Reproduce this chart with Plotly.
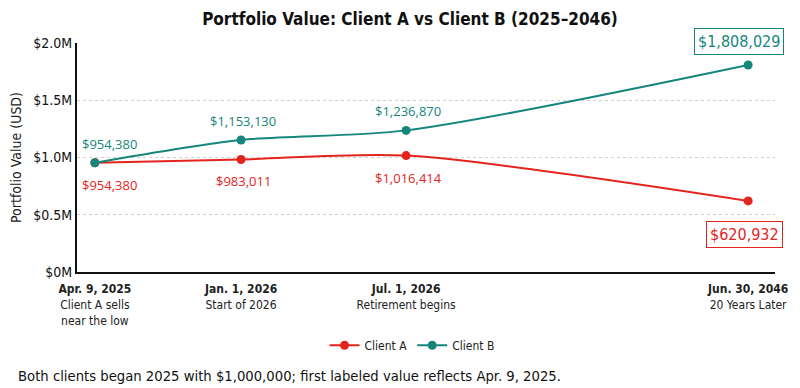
import plotly.graph_objects as go

# ---- data ----
dates = ["Apr. 9, 2025", "Jan. 1, 2026", "Jul. 1, 2026", "Jun. 30, 2046"]
notes = ["Client A sells<br>near the low", "Start of 2026", "Retirement begins", "20 Years Later"]
client_a = [954380, 983011, 1016414, 620932]
client_b = [954380, 1153130, 1236870, 1808029]
y_ticks = [0, 500000, 1000000, 1500000, 2000000]
y_tick_labels = ["$0M", "$0.5M", "$1.0M", "$1.5M", "$2.0M"]

# ---- layout config (timeline positions on a 0-100 axis) ----
x_pos = [2.56, 23.5, 47.15, 96.15]

RED = "#e3241d"
TEAL = "#16867c"
COND = "DejaVu Sans Condensed, Roboto, sans-serif"
BODY = "Open Sans, Noto Sans, sans-serif"

fig = go.Figure()
fig.add_trace(go.Scatter(x=x_pos, y=client_a, name="Client A", mode="lines+markers",
                         line=dict(color=RED, width=2, shape="spline", smoothing=0.8),
                         marker=dict(size=9, color=RED)))
fig.add_trace(go.Scatter(x=x_pos, y=client_b, name="Client B", mode="lines+markers",
                         line=dict(color=TEAL, width=2, shape="spline", smoothing=0.8),
                         marker=dict(size=9, color=TEAL)))

def money(v):
    return "${:,.0f}".format(v)

n = len(dates)
for i in range(n - 1):
    xs = 15 if i == 0 else 2
    fig.add_annotation(x=x_pos[i], y=client_b[i], text=money(client_b[i]), showarrow=False,
                       xshift=xs, yshift=19, font=dict(family=BODY, size=13, color=TEAL))
    fig.add_annotation(x=x_pos[i], y=client_a[i], text=money(client_a[i]), showarrow=False,
                       xshift=xs, yshift=-22, font=dict(family=BODY, size=13, color=RED))

# boxed final values
fig.add_annotation(x=x_pos[-1], y=client_b[-1], text=money(client_b[-1]), showarrow=False,
                   xshift=-9, yshift=23, font=dict(family=COND, size=16, color=TEAL),
                   bordercolor=TEAL, borderwidth=1, borderpad=3, bgcolor="white")
fig.add_annotation(x=x_pos[-1], y=client_a[-1], text=money(client_a[-1]), showarrow=False,
                   xshift=-4, yshift=-34, font=dict(family=COND, size=16, color=RED),
                   bordercolor=RED, borderwidth=1, borderpad=3, bgcolor="white")

fig.add_annotation(xref="paper", yref="paper", x=-0.087, y=-0.45, xanchor="left", yanchor="middle",
                   text="Both clients began 2025 with $1,000,000; first labeled value reflects Apr. 9, 2025.",
                   showarrow=False, font=dict(family=COND, size=14.7, color="#111"))

tick_text = ["<b>%s</b><br>%s" % (d, t) for d, t in zip(dates, notes)]

fig.update_layout(
    width=800, height=388,
    margin=dict(l=77, r=21, t=43, b=116),
    paper_bgcolor="white", plot_bgcolor="white",
    title=dict(text="<b>Portfolio Value: Client A vs Client B (2025–2046)</b>",
               x=0.5125, xanchor="center", y=0.952, yanchor="middle", yref="container",
               font=dict(family=COND, size=17, color="#111")),
    xaxis=dict(range=[0, 100], tickmode="array", tickvals=x_pos, ticktext=tick_text,
               showgrid=False, zeroline=False, showline=True, linecolor="#111", linewidth=2,
               ticks="", ticklabelstandoff=5, tickfont=dict(family=COND, size=12, color="#222")),
    yaxis=dict(range=[0, 2000000], tickmode="array", tickvals=y_ticks, ticktext=y_tick_labels,
               showgrid=True, gridcolor="#cfcfcf", griddash="dot", gridwidth=1,
               zeroline=False, showline=True, linecolor="#111", linewidth=2, ticks="",
               title=dict(text="Portfolio Value (USD)", font=dict(family=COND, size=14, color="#222"), standoff=8),
               tickfont=dict(family=COND, size=14, color="#111")),
    legend=dict(orientation="h", x=0.48, xanchor="center", y=-0.32, yanchor="middle",
                font=dict(family=COND, size=12, color="#222")),
    showlegend=True,
)

fig.write_html("out.html")
